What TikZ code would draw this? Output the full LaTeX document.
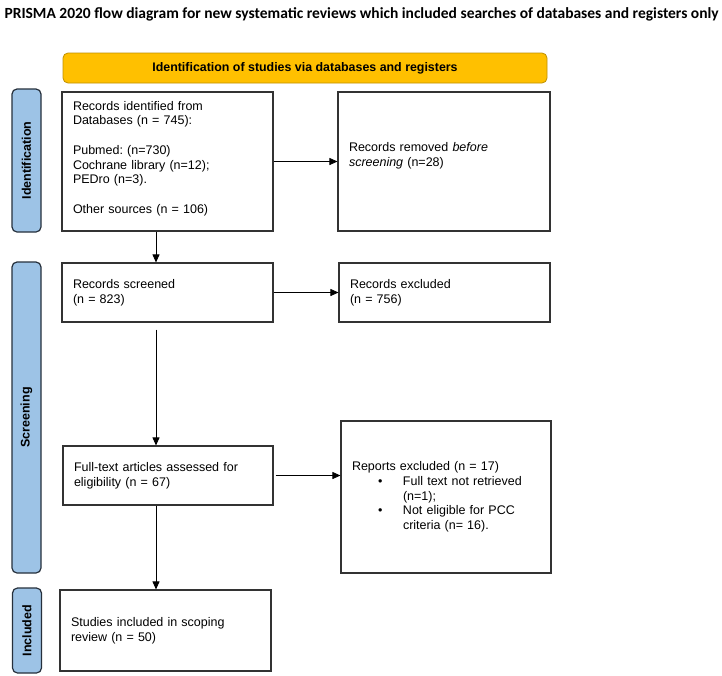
\documentclass[tikz,border=0pt]{standalone}
\usepackage{fontspec}
\setmainfont{Liberation Sans}
\newfontfamily\titelfont{Carlito}
\usepackage{tikz}
\usetikzlibrary{arrows.meta,calc}
\definecolor{balkenblau}{HTML}{9DC3E6}
\definecolor{balkenrand}{HTML}{26303C}
\definecolor{kopfgelb}{HTML}{FFC000}
\definecolor{kopfrand}{HTML}{BF9000}
\frenchspacing

\begin{document}
\begin{tikzpicture}[x=1pt, y=-1pt,
	kasten/.style={draw=black!80, line width=1.1pt, fill=white, inner xsep=11pt, inner ysep=0pt, align=left, font=\fontsize{12.5}{14.7}\selectfont},
	balken/.style={draw=balkenrand, line width=1.2pt, fill=balkenblau, rounded corners=5pt, minimum height=29pt, inner sep=0pt, rotate=90, font=\bfseries\fontsize{12.5}{15}\selectfont},
	kopf/.style={draw=kopfrand, line width=0.8pt, fill=kopfgelb, rounded corners=5pt, minimum width=484pt, minimum height=30pt, font=\bfseries\fontsize{12.4}{15}\selectfont},
	pfeil/.style={-{Triangle[length=8pt,width=7pt]}, line width=0.8pt}]
	\fill[white] (0,0) rectangle (722,675); % weisser Hintergrund
	\useasboundingbox (0,0) rectangle (722,675);
	
	\node[anchor=west, font=\titelfont\bfseries\fontsize{15.5}{18}\selectfont] (titel) at (1,14) {PRISMA 2020 flow diagram for new systematic reviews which included searches of databases and registers only};
	
	\node[kopf] (kopf) at (305,68) {Identification of studies via databases and registers};
	
	% Balken links
	\node[balken, minimum width=143pt] (ident) at (26.5,160.5) {Identification};
	\node[balken, minimum width=311pt] (screen) at (26.5,417.5) {Screening};
	\node[balken, minimum width=85pt] (incl) at (27,630.5) {Included};
	
	% Kaesten
	\node[kasten, text width=189pt, minimum height=139pt] (gefunden) at (167.5,161.5) {Records identified from\\ Databases (n = 745):\\[14.7pt] Pubmed: (n=730)\\ Cochrane library (n=12);\\ PEDro (n=3).\\[14.7pt] Other sources (n = 106)\\[-6pt]\mbox{}};
	\node[kasten, text width=190pt, minimum height=139pt] (entfernt) at (444,161.5) {Records removed \textit{before}\\ \textit{screening} (n=28)\\ \mbox{}};
	\node[kasten, text width=189pt, minimum height=59pt] (gesichtet) at (167.5,292.5) {Records screened\\ (n = 823)};
	\node[kasten, text width=189pt, minimum height=59pt] (ausgeschl) at (444.5,292.5) {Records excluded\\ (n = 756)};
	\node[kasten, text width=188pt, minimum height=59pt] (volltext) at (168,475.5) {Full-text articles assessed for\\ eligibility (n = 67)};
	\node[kasten, text width=188pt, minimum height=152pt] (berichte) at (446,497) {Reports excluded (n = 17)\\ \makebox[51pt][l]{\hspace*{26pt}\textbullet}Full text not retrieved\\ \hspace*{51pt}(n=1);\\ \makebox[51pt][l]{\hspace*{26pt}\textbullet}Not eligible for PCC\\ \hspace*{51pt}criteria (n= 16).};
	\node[kasten, text width=189pt, minimum height=81pt] (studien) at (165.5,630.5) {Studies included in scoping\\ review (n = 50)};
	
	% Pfeile
	\coordinate (spalte) at (156,0); % x der senkrechten Pfeile
	\draw[pfeil] (gefunden.south -| spalte) -- (gesichtet.north -| spalte);
	\draw[pfeil, shorten <=7pt] (gesichtet.south -| spalte) -- (volltext.north -| spalte);
	\draw[pfeil] (volltext.south -| spalte) -- (studien.north -| spalte);
	\draw[pfeil] (gefunden.east) -- (entfernt.west);
	\draw[pfeil] (gesichtet.east) -- (ausgeschl.west);
	\draw[pfeil, shorten <=2pt] (volltext.east) -- (volltext.east -| berichte.west);
\end{tikzpicture}
\end{document}
